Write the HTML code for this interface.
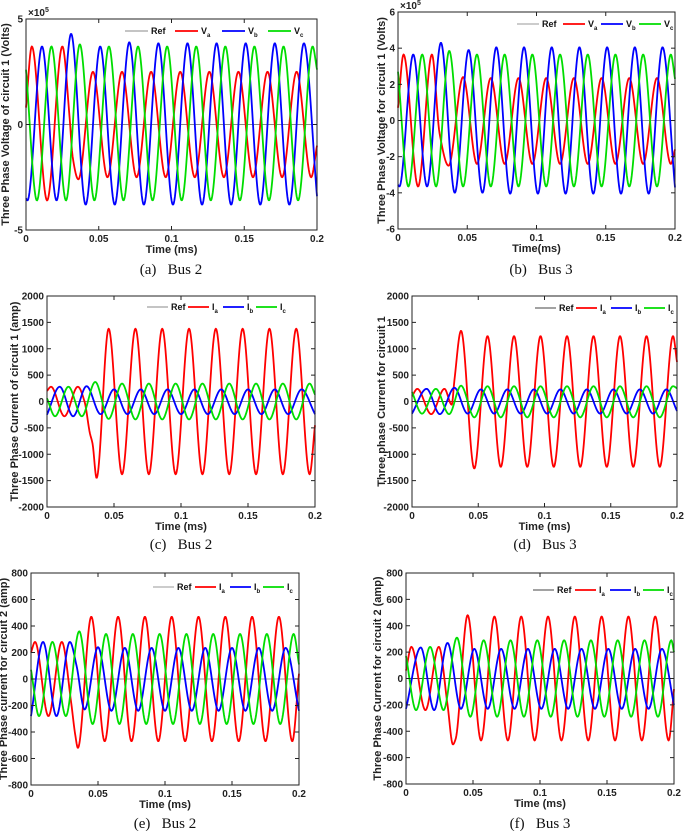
<!DOCTYPE html>
<html><head><meta charset="utf-8">
<style>
html,body{margin:0;padding:0;background:#fff;}
svg{display:block;}
text{font-family:"Liberation Sans",Arial,sans-serif;}
.tk{font-size:10px;font-weight:bold;fill:#222;}
.lab{font-size:11px;font-weight:bold;fill:#222;}
.cap{font-family:"Liberation Serif",serif;font-size:15px;fill:#111;}
.lg{font-size:9px;font-weight:bold;fill:#111;}
</style></head>
<body>
<svg id="fig" width="685" height="831" viewBox="0 0 685 831" xmlns="http://www.w3.org/2000/svg"></svg>
<script>
// ---- Panel (a) data: extrema (time ms, value x1e5 V)
const aVaT=[0,0.004,0.0145,0.025,0.030,0.032,0.036,0.046,0.056,0.066,0.076,0.086,0.096,0.106,0.116,0.126,0.136,0.146,0.156,0.166,0.176,0.186,0.196,0.2];
const aVaV=[0.8,3.7,-3.6,3.7,0.3,-1.5,-2.6,2.5,-2.5,2.5,-2.5,2.5,-2.5,2.5,-2.5,2.5,-2.5,2.5,-2.5,2.5,-2.5,2.5,-2.5,-1.0];
const aVbT=[0,0.001,0.011,0.021,0.031,0.041,0.051,0.061,0.071,0.081,0.091,0.101,0.111,0.121,0.131,0.141,0.151,0.161,0.171,0.181,0.191,0.2];
const aVbV=[-3.5,-3.6,3.7,-3.6,4.3,-3.8,3.7,-3.8,3.9,-3.8,3.85,-3.8,3.85,-3.8,3.85,-3.8,3.85,-3.8,3.85,-3.8,3.85,-3.4];
const aVcT=[0,0.0075,0.0175,0.0275,0.037,0.047,0.057,0.067,0.077,0.087,0.097,0.107,0.117,0.127,0.137,0.147,0.157,0.167,0.177,0.187,0.197,0.2];
const aVcV=[2.6,-3.6,3.7,-3.6,3.8,-3.6,3.7,-3.6,3.7,-3.6,3.7,-3.6,3.7,-3.6,3.7,-3.6,3.7,-3.6,3.7,-3.6,3.7,2.6];
// ---- Panel (b)
const bVaT=[0,0.004,0.0145,0.0245,0.030,0.0365,0.047,0.057,0.067,0.077,0.087,0.097,0.107,0.117,0.127,0.137,0.147,0.157,0.167,0.177,0.187,0.197,0.2];
const bVaV=[0.7,3.65,-3.65,3.65,-0.7,-2.5,2.4,-2.4,2.35,-2.4,2.35,-2.4,2.35,-2.4,2.35,-2.4,2.35,-2.4,2.35,-2.4,2.35,-2.4,-1.6];
const bVbT=[0,0.001,0.011,0.021,0.031,0.041,0.051,0.061,0.071,0.081,0.091,0.101,0.111,0.121,0.131,0.141,0.151,0.161,0.171,0.181,0.191,0.2];
const bVbV=[-3.55,-3.65,3.65,-3.65,4.3,-4.0,3.9,-4.0,4.05,-4.05,4.05,-4.05,4.05,-4.05,4.05,-4.05,4.05,-4.05,4.05,-4.05,4.05,-3.7];
const bVcT=[0,0.0075,0.0175,0.0275,0.037,0.047,0.057,0.067,0.077,0.087,0.097,0.107,0.117,0.127,0.137,0.147,0.157,0.167,0.177,0.187,0.197,0.2];
const bVcV=[2.7,-3.65,3.65,-3.65,3.85,-3.65,3.65,-3.65,3.65,-3.65,3.65,-3.65,3.65,-3.65,3.65,-3.65,3.65,-3.65,3.65,-3.65,3.65,2.3];
// ---- Panel (c)
const cIaT=[0,0.003,0.013,0.023,0.028,0.032,0.034,0.037,0.046,0.056,0.066,0.076,0.086,0.096,0.106,0.116,0.126,0.136,0.146,0.156,0.166,0.176,0.186,0.196,0.2];
const cIaV=[200,280,-280,280,0,-600,-800,-1450,1380,-1380,1380,-1380,1380,-1380,1380,-1380,1380,-1380,1380,-1380,1380,-1380,1380,-1380,-450];
const cIbT=[0,0.0095,0.0195,0.0295,0.040,0.050,0.060,0.070,0.080,0.090,0.100,0.110,0.120,0.130,0.140,0.150,0.160,0.170,0.180,0.190,0.2];
const cIbV=[-250,280,-280,290,-240,230,-240,230,-240,230,-240,230,-240,230,-240,230,-240,230,-240,230,-240];
const cIcT=[0,0.006,0.016,0.026,0.036,0.046,0.056,0.066,0.076,0.086,0.096,0.106,0.116,0.126,0.136,0.146,0.156,0.166,0.176,0.186,0.196,0.2];
const cIcV=[60,-280,280,-280,370,-330,340,-340,340,-340,340,-340,340,-340,340,-340,340,-340,340,-340,340,130];
// ---- Panel (d)
const dIaT=[0,0.004,0.0145,0.0245,0.030,0.032,0.037,0.047,0.057,0.067,0.077,0.087,0.097,0.107,0.117,0.127,0.137,0.147,0.157,0.167,0.177,0.187,0.197,0.2];
const dIaV=[100,240,-240,240,-60,400,1340,-1270,1240,-1240,1240,-1240,1240,-1240,1240,-1240,1240,-1240,1240,-1240,1240,-1240,1240,750];
const dIbT=[0,0.011,0.021,0.032,0.042,0.052,0.062,0.072,0.082,0.092,0.102,0.112,0.122,0.132,0.142,0.152,0.162,0.172,0.182,0.192,0.2];
const dIbV=[-230,240,-240,260,-230,230,-230,230,-230,230,-230,230,-230,230,-230,230,-230,230,-230,230,-180];
const dIcT=[0,0.0075,0.018,0.028,0.037,0.047,0.057,0.067,0.077,0.087,0.097,0.107,0.117,0.127,0.137,0.147,0.157,0.167,0.177,0.187,0.197,0.2];
const dIcV=[180,-230,240,-240,300,-300,290,-300,290,-300,290,-300,290,-300,290,-300,290,-300,290,-300,290,250];
// ---- Panel (e)
const eIaT=[0,0.003,0.013,0.023,0.030,0.033,0.035,0.045,0.055,0.065,0.075,0.085,0.095,0.105,0.115,0.125,0.135,0.145,0.155,0.165,0.175,0.185,0.195,0.2];
const eIaV=[200,280,-280,280,-180,-420,-520,470,-470,470,-470,470,-470,470,-470,470,-470,470,-470,470,-470,470,-470,40];
const eIbT=[0,0.009,0.019,0.029,0.034,0.040,0.050,0.060,0.070,0.080,0.090,0.100,0.110,0.120,0.130,0.140,0.150,0.160,0.170,0.180,0.190,0.2];
const eIbV=[-280,280,-280,280,100,-230,240,-240,235,-240,235,-240,235,-240,235,-240,235,-240,235,-240,235,-240];
const eIcT=[0,0.006,0.016,0.026,0.036,0.046,0.056,0.066,0.076,0.086,0.096,0.106,0.116,0.126,0.136,0.146,0.156,0.166,0.176,0.186,0.196,0.2];
const eIcV=[70,-280,280,-280,360,-340,340,-340,340,-340,340,-340,340,-340,340,-340,340,-340,340,-340,340,110];
// ---- Panel (f)
const fIaT=[0,0.004,0.0145,0.0245,0.031,0.035,0.037,0.046,0.056,0.066,0.076,0.086,0.096,0.106,0.116,0.126,0.136,0.146,0.156,0.166,0.176,0.186,0.196,0.2];
const fIaV=[60,240,-240,240,-200,-500,-460,480,-470,470,-470,470,-470,470,-470,470,-470,470,-470,470,-470,470,-470,-80];
const fIbT=[0,0.011,0.021,0.031,0.041,0.051,0.061,0.071,0.081,0.091,0.101,0.111,0.121,0.131,0.141,0.151,0.161,0.171,0.181,0.191,0.2];
const fIbV=[-230,235,-240,270,-230,225,-230,225,-230,225,-230,225,-230,225,-230,225,-230,225,-230,225,-200];
const fIcT=[0,0.0075,0.018,0.028,0.038,0.048,0.058,0.068,0.078,0.088,0.098,0.108,0.118,0.128,0.138,0.148,0.158,0.168,0.178,0.188,0.198,0.2];
const fIcV=[170,-240,240,-240,310,-290,290,-290,290,-290,290,-290,290,-290,290,-290,290,-290,290,-290,290,200];

// tick label arrays
const xTicks=[0,0.05,0.1,0.15,0.2];
const xTickLabels=["0","0.05","0.1","0.15","0.2"];
const yTicksA=[-5,0,5];
const yTicksB=[-6,-4,-2,0,2,4,6];
const yTicksCD=[-2000,-1500,-1000,-500,0,500,1000,1500,2000];
const yTicksEF=[-800,-600,-400,-200,0,200,400,600,800];

const NS="http://www.w3.org/2000/svg";
const svg=document.getElementById('fig');
function mk(tag,attrs,parent){const e=document.createElementNS(NS,tag);for(const k in attrs)e.setAttribute(k,attrs[k]);(parent||svg).appendChild(e);return e;}

function pchip(T,V){
  const n=T.length,d=[],m=new Array(n);
  for(let i=0;i<n-1;i++)d.push((V[i+1]-V[i])/(T[i+1]-T[i]));
  m[0]=d[0];m[n-1]=d[n-2];
  for(let i=1;i<n-1;i++){ if(d[i-1]*d[i]<=0)m[i]=0; else {const h0=T[i]-T[i-1],h1=T[i+1]-T[i];const w1=2*h1+h0,w2=h1+2*h0;m[i]=(w1+w2)/(w1/d[i-1]+w2/d[i]);} }
  return function(t){let i=0;while(i<n-2&&t>T[i+1])i++;const h=T[i+1]-T[i],s=(t-T[i])/h;
    const h00=2*s*s*s-3*s*s+1,h10=s*s*s-2*s*s+s,h01=-2*s*s*s+3*s*s,h11=s*s*s-s*s;
    return h00*V[i]+h10*h*m[i]+h01*V[i+1]+h11*h*m[i+1];};
}

function panel(cfg){
  const g=mk('g',{});
  
  
  const X=t=>cfg.L+(t-0)/(0.2-0)*(cfg.R-cfg.L);
  const Y=v=>cfg.B-(v-cfg.ymin)/(cfg.ymax-cfg.ymin)*(cfg.B-cfg.T);
  const ref=mk('line',{x1:cfg.L,x2:cfg.R,y1:Y(0),y2:Y(0),stroke:cfg.refColor,'stroke-width':1},g);
  
  
  const cols=['#ff0000','#0000ff','#00dd00'];
  const names=['series-a','series-b','series-c'];
  cfg.series.forEach((s,k)=>{
    const f=pchip(s[0],s[1]);let d='';
    for(let t=0;t<=0.2+1e-9;t+=0.0004){d+=(d?'L':'M')+X(t).toFixed(2)+','+Y(f(t)).toFixed(2);}
    const p=mk('path',{d:d,fill:'none',stroke:cols[k],'stroke-width':1.8,'stroke-linejoin':'round'},g);
    
    
  });
  const box=mk('rect',{x:cfg.L,y:cfg.T,width:cfg.R-cfg.L,height:cfg.B-cfg.T,fill:'none',stroke:'#222','stroke-width':1},g);
  
  
  xTicks.forEach((t,i)=>{
    mk('line',{x1:X(t),x2:X(t),y1:cfg.B,y2:cfg.B-4,stroke:'#222'},g);
    mk('line',{x1:X(t),x2:X(t),y1:cfg.T,y2:cfg.T+4,stroke:'#222'},g);
    const tx=mk('text',{x:X(t),y:cfg.B+12,'text-anchor':'middle',class:'tk'},g);
    tx.textContent=xTickLabels[i];
    
    
  });
  cfg.yt.forEach(v=>{
    mk('line',{x1:cfg.L,x2:cfg.L+4,y1:Y(v),y2:Y(v),stroke:'#222'},g);
    mk('line',{x1:cfg.R,x2:cfg.R-4,y1:Y(v),y2:Y(v),stroke:'#222'},g);
    const ty=mk('text',{x:cfg.L-3,y:Y(v)+3.5,'text-anchor':'end',class:'tk'},g);
    ty.textContent=String(v);
    
    
  });
  if(cfg.exp){
    const e=mk('text',{x:cfg.L+2,y:cfg.T-3,class:'tk'},g);
    e.innerHTML='×10<tspan dy="-4" font-size="7">5</tspan>';
    
    
  }
  const xl=mk('text',{x:(cfg.L+cfg.R)/2,y:cfg.B+23,'text-anchor':'middle',class:'lab'},g);
  xl.textContent=cfg.xlab;
  
  
  const yl=mk('text',{x:0,y:0,'text-anchor':'middle',class:'lab',transform:`translate(${cfg.ylx},${(cfg.T+cfg.B)/2}) rotate(-90)`},g);
  yl.textContent=cfg.ylab;
  
  
  let lx=cfg.lgx;const ly=cfg.lgy;
  const lcols=[cfg.refColor,'#ff0000','#0000ff','#00dd00'];
  const ltxt=['Ref',cfg.sym+'a',cfg.sym+'b',cfg.sym+'c'];
  const widths=cfg.lgw;
  ltxt.forEach((s,i)=>{
    const lg=mk('g',{},g);
    
    
    mk('line',{x1:lx,x2:lx+cfg.lgl,y1:ly,y2:ly,stroke:lcols[i],'stroke-width':i?1.8:1},lg);
    const t=mk('text',{x:lx+cfg.lgl+3,y:ly+3,class:'lg'},lg);
    if(i===0)t.textContent='Ref';
    else t.innerHTML=cfg.sym+'<tspan dy="3" font-size="6">'+s.slice(-1)+'</tspan>';
    lx+=widths[i];
  });
  const cap=mk('text',{x:cfg.capx,y:cfg.capy,'text-anchor':'middle',class:'cap'},g);
  cap.textContent=cfg.cap;
  
  
}

panel({name:'panel-a',prefix:'va',L:26,R:317,T:19,B:230,ymin:-5,ymax:5,yt:yTicksA,exp:true,refColor:'#888',
  series:[[aVaT,aVaV],[aVbT,aVbV],[aVcT,aVcV]],xlab:'Time (ms)',ylab:'Three Phase Voltage of circuit 1 (Volts)',ylx:9,
  sym:'V',lgx:125,lgy:31,lgl:23,lgw:[50,47,46,46],cap:'(a)\u00a0\u00a0\u00a0Bus 2',capx:171,capy:274});
panel({name:'panel-b',prefix:'vb',L:398,R:675,T:12,B:229,ymin:-6,ymax:6,yt:yTicksB,exp:true,refColor:'#999',
  series:[[bVaT,bVaV],[bVbT,bVbV],[bVcT,bVcV]],xlab:'Time(ms)',ylab:'Three Phase Voltage for circuit 1 (Volts)',ylx:385,
  sym:'V',lgx:517,lgy:24,lgl:22,lgw:[46,38,38,38],cap:'(b)\u00a0\u00a0\u00a0Bus 3',capx:541,capy:274});
panel({name:'panel-c',prefix:'ic1',L:47,R:315,T:296,B:507,ymin:-2000,ymax:2000,yt:yTicksCD,exp:false,refColor:'#888',
  series:[[cIaT,cIaV],[cIbT,cIbV],[cIcT,cIcV]],xlab:'Time (ms)',ylab:'Three Phase Current of circuit 1 (amp)',ylx:18,
  sym:'I',lgx:147,lgy:307,lgl:21,lgw:[41,35,33,30],cap:'(c)\u00a0\u00a0\u00a0Bus 2',capx:181,capy:549});
panel({name:'panel-d',prefix:'id1',L:412,R:677,T:296,B:507,ymin:-2000,ymax:2000,yt:yTicksCD,exp:false,refColor:'#444',
  series:[[dIaT,dIaV],[dIbT,dIbV],[dIcT,dIcV]],xlab:'Time (ms)',ylab:'Three phase Current for circuit 1',ylx:385,
  sym:'I',lgx:535,lgy:308,lgl:21,lgw:[41,35,33,30],cap:'(d)\u00a0\u00a0\u00a0Bus 3',capx:545,capy:549});
panel({name:'panel-e',prefix:'ie2',L:31,R:299,T:573,B:785,ymin:-800,ymax:800,yt:yTicksEF,exp:false,refColor:'#999',
  series:[[eIaT,eIaV],[eIbT,eIbV],[eIcT,eIcV]],xlab:'Time (ms)',ylab:'Three Phase current for circuit 2 (amp)',ylx:7,
  sym:'I',lgx:153,lgy:587,lgl:21,lgw:[42,35,33,30],cap:'(e)\u00a0\u00a0\u00a0Bus 2',capx:165,capy:828});
panel({name:'panel-f',prefix:'if2',L:406,R:674,T:573,B:784,ymin:-800,ymax:800,yt:yTicksEF,exp:false,refColor:'#444',
  series:[[fIaT,fIaV],[fIbT,fIbV],[fIcT,fIcV]],xlab:'Time (ms)',ylab:'Three Phase Current for circuit 2 (amp)',ylx:381,
  sym:'I',lgx:533,lgy:590,lgl:21,lgw:[42,35,33,30],cap:'(f)\u00a0\u00a0\u00a0Bus 3',capx:540,capy:828});
</script>
</body></html>
